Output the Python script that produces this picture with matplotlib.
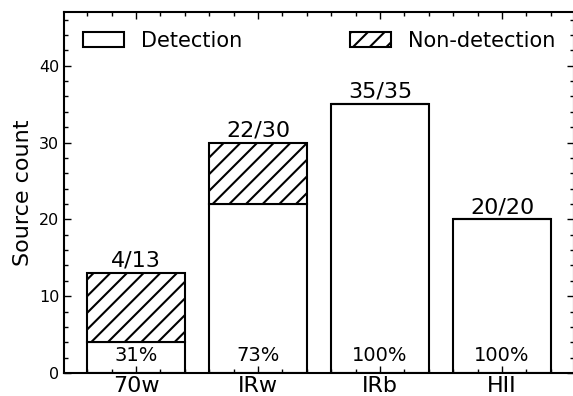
import matplotlib
matplotlib.use("Agg")
import matplotlib.pyplot as plt
from matplotlib.ticker import AutoMinorLocator, MultipleLocator

categories = ["70w", "IRw", "IRb", "HII"]
detected = [4, 22, 35, 20]
total = [13, 30, 35, 20]
percent_labels = ["31%", "73%", "100%", "100%"]

plt.rcParams["hatch.linewidth"] = 1.5

fig = plt.figure(figsize=(5.73, 3.96), dpi=100)
ax = fig.add_axes([64 / 573, 23 / 396, 510 / 573, 361 / 396])

x = list(range(len(categories)))
non_detected = [t - d for t, d in zip(total, detected)]

ax.bar(x, detected, width=0.8, color="white", edgecolor="black", linewidth=1.5,
       label="Detection")
ax.bar(x, non_detected, width=0.8, bottom=detected, color="white", edgecolor="black",
       linewidth=1.5, hatch="//", label="Non-detection")

for xi, d, t, p in zip(x, detected, total, percent_labels):
    ax.text(xi, t + 0.3, f"{d}/{t}", ha="center", va="bottom", fontsize=16)
    ax.text(xi, 1.0, p, ha="center", va="bottom", fontsize=14)

ax.set_ylim(0, 47)
ax.set_xticks(x)
ax.set_xticklabels(categories, fontsize=16)
ax.yaxis.set_major_locator(MultipleLocator(10))
ax.yaxis.set_minor_locator(AutoMinorLocator(5))
ax.xaxis.set_minor_locator(AutoMinorLocator(5))
ax.tick_params(which="both", direction="in", top=True, right=True, width=1)
ax.tick_params(which="major", length=5, labelsize=11.5)
ax.tick_params(axis="x", which="major", labelsize=16, pad=2)
ax.tick_params(which="minor", length=3)
for s in ax.spines.values():
    s.set_linewidth(1.5)

ax.set_ylabel("Source count", fontsize=16)

ax.legend(loc="upper left", ncol=2, mode="expand", frameon=False, fontsize=15,
          bbox_to_anchor=(0, 0, 1, 1))

fig.savefig("out.png", dpi=100)
